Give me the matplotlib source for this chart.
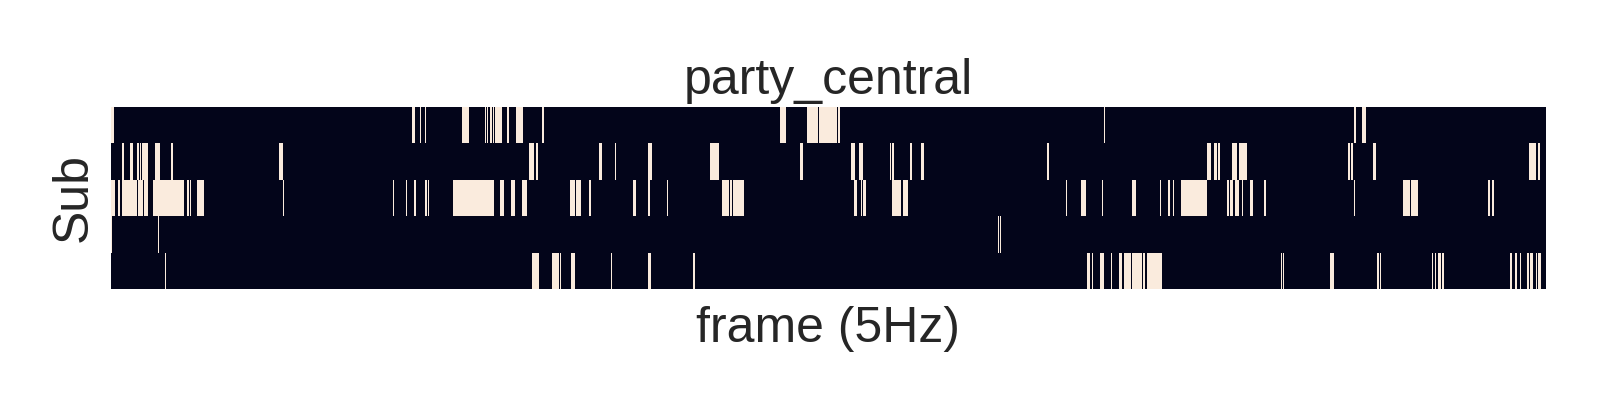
import numpy as np
import matplotlib
matplotlib.use("Agg")
import matplotlib.pyplot as plt
import seaborn as sns

# frames sampled at 5Hz, one row per subject
n_frames = 1435
subjects = ["1", "2", "3", "4", "5"]

# (start, end) frame ranges where the event is on, per subject
sub1 = [(0, 3), (301, 304), (309, 310), (314, 315), (351, 358), (374, 375), (376, 377),
        (379, 381), (382, 383), (384, 391), (396, 398), (405, 412), (431, 433), (669, 675),
        (696, 707), (708, 726), (727, 729), (993, 994), (1243, 1245), (1251, 1255)]
sub2 = [(11, 13), (19, 22), (26, 28), (29, 30), (31, 37), (44, 49), (60, 62), (168, 172),
        (418, 423), (425, 427), (488, 491), (504, 505), (537, 541), (599, 608), (689, 692),
        (740, 744), (748, 752), (779, 780), (781, 783), (799, 801), (810, 813), (936, 938),
        (1096, 1100), (1103, 1106), (1107, 1109), (1121, 1126), (1128, 1136), (1237, 1239),
        (1240, 1242), (1262, 1265), (1418, 1425), (1427, 1429)]
sub3 = [(0, 4), (7, 9), (11, 26), (27, 32), (33, 37), (42, 73), (76, 78), (79, 80), (86, 93),
        (172, 173), (282, 283), (295, 296), (303, 305), (314, 316), (317, 318), (342, 383),
        (389, 393), (400, 404), (411, 416), (459, 464), (465, 470), (478, 480), (522, 525),
        (537, 539), (556, 557), (611, 618), (619, 621), (622, 633), (743, 746), (750, 751),
        (752, 755), (781, 790), (792, 797), (955, 956), (970, 975), (991, 992), (1021, 1025),
        (1049, 1050), (1057, 1059), (1062, 1063), (1070, 1096), (1116, 1118), (1119, 1122),
        (1124, 1128), (1131, 1132), (1139, 1142), (1153, 1155), (1243, 1244), (1292, 1299),
        (1300, 1307), (1377, 1379), (1381, 1383)]
sub4 = [(0, 1), (47, 48), (887, 888), (889, 890)]
sub5 = [(54, 55), (421, 428), (441, 448), (449, 450), (460, 464), (500, 501), (537, 540),
        (582, 584), (976, 979), (981, 982), (989, 993), (1000, 1001), (1008, 1011),
        (1013, 1020), (1021, 1031), (1032, 1034), (1036, 1051), (1170, 1171), (1172, 1173),
        (1219, 1223), (1266, 1268), (1269, 1270), (1321, 1322), (1324, 1325), (1327, 1330),
        (1331, 1333), (1399, 1401), (1404, 1406), (1409, 1410), (1416, 1418), (1419, 1422),
        (1425, 1426), (1427, 1430)]

events = np.zeros((len(subjects), n_frames))
for i, spans in enumerate([sub1, sub2, sub3, sub4, sub5]):
    for a, b in spans:
        events[i, a:b] = 1

sns.set_theme(style="white")
plt.rcParams['font.family'] = ['Liberation Sans', 'DejaVu Sans']

fig, ax = plt.subplots(figsize=(16, 4), dpi=100)
fig.subplots_adjust(left=111/1600, right=1546/1600, top=1-107/400, bottom=1-289/400)

sns.heatmap(events, cmap="rocket", cbar=False, xticklabels=False, yticklabels=False,
            ax=ax, rasterized=True)

ax.set_title("party_central", fontsize=36, pad=9)
ax.set_xlabel("frame (5Hz)", fontsize=36, labelpad=12)
ax.set_ylabel("Sub", fontsize=36, labelpad=10)

fig.savefig("out.png", dpi=100)
